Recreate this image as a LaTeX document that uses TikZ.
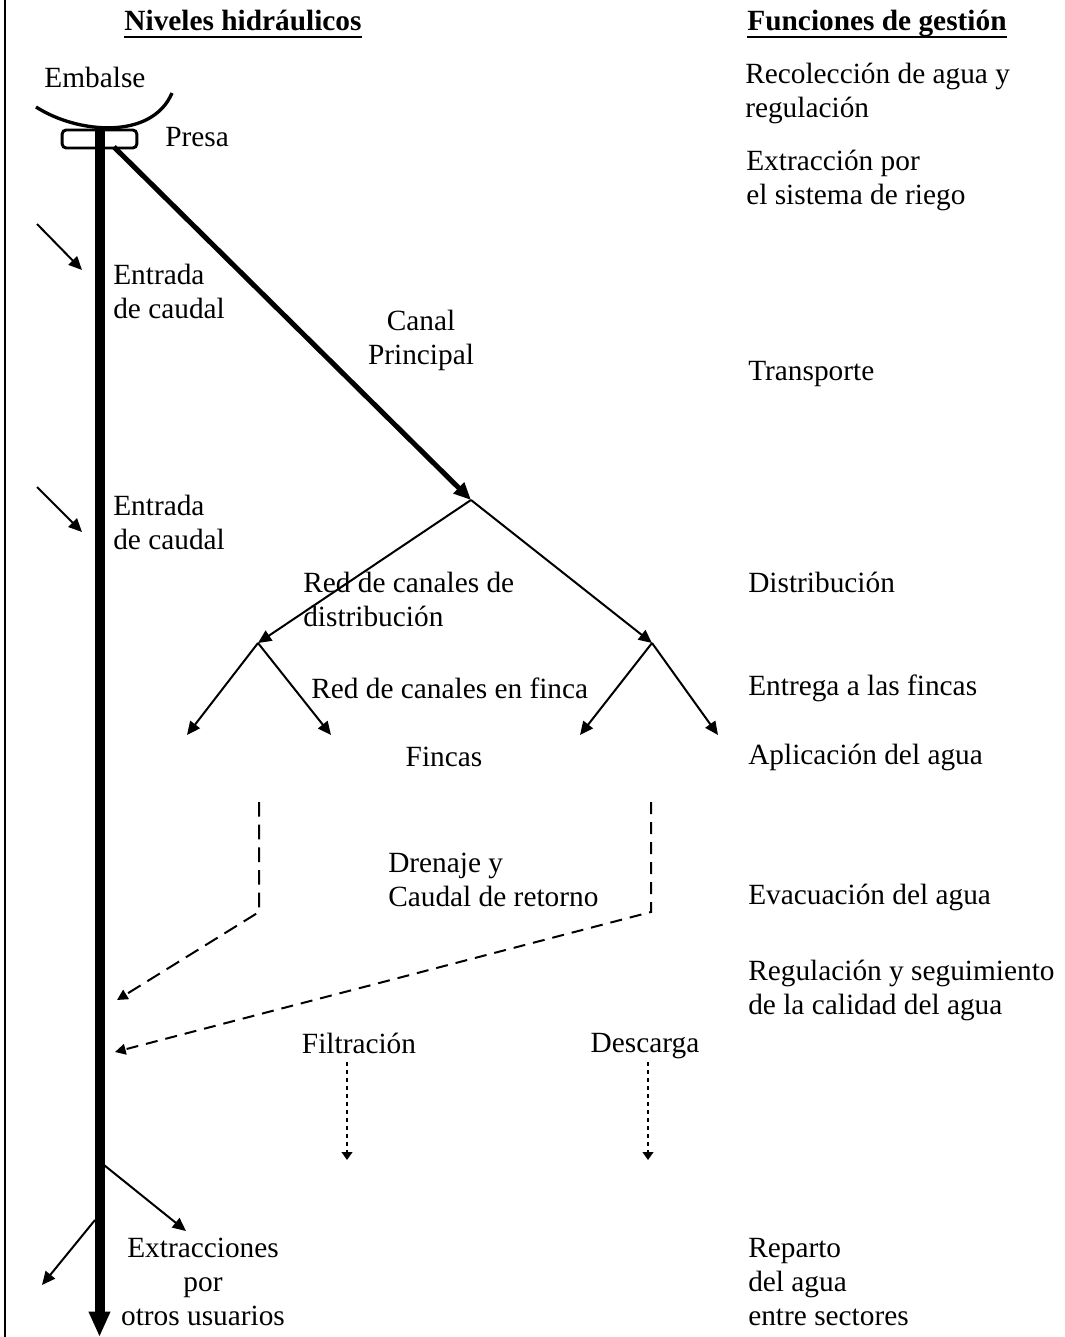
\documentclass[tikz,border=0pt]{standalone}
\usepackage{fontspec}
\setmainfont{Liberation Serif}
\usetikzlibrary{arrows.meta,calc}
\newcommand{\myfs}{\fontsize{22}{25.5}\selectfont}
\begin{document}
\begin{tikzpicture}[x=0.75pt,y=-0.75pt,
  txt/.style={inner sep=0pt, anchor=west, align=left, font=\myfs},
  ctxt/.style={inner sep=0pt, anchor=center, align=center, font=\myfs},
  ttl/.style={inner sep=0pt, anchor=base, font=\myfs\bfseries},
  thinarrow/.style={line width=1.5pt, -{Triangle[length=10pt,width=9pt]}},
  dasharrow/.style={line width=1.5pt, dash pattern=on 11pt off 6pt, -{Triangle[length=8pt,width=8pt]}},
  dotarrow/.style={line width=1.5pt, dash pattern=on 3pt off 3pt, -{Triangle[length=6pt,width=8pt]}}
]
\useasboundingbox (0,0) rectangle (1064,1337);
\draw[line width=1.5pt] (5,0) -- (5,1337);

% titles
\node[ttl] (t1) at (243,31) {Niveles hidráulicos};
\draw[line width=1.5pt] ($(t1.base west)+(0,6)$) -- ($(t1.base east)+(0,6)$);
\node[ttl] (t2) at (877,31) {Funciones de gestión};
\draw[line width=1.5pt] ($(t2.base west)+(0,6)$) -- ($(t2.base east)+(0,6)$);

% reservoir and dam
\node[ctxt] (embalse) at (95,77) {Embalse};
\draw[line width=2.5pt] (36,107) .. controls (78,134) and (152,140) .. (172,93);
\node[draw, line width=2.2pt, rounded corners=3pt, minimum width=56pt, minimum height=13.5pt, inner sep=0pt] (presabox) at (99.5,139) {};
\node[txt] (presa) at (165,137) {Presa};

% main river
\coordinate (rtop) at (99.5,130);
\coordinate (rbot) at (99.5,1337);
\draw[line width=7.5pt, -{Triangle[length=19pt,width=15pt]}] (rtop) -- (rbot);

% main canal
\coordinate (cstart) at (114,147);
\coordinate (br) at (471,500);
\draw[line width=3.8pt, -{Triangle[length=13pt,width=11pt]}] (cstart) -- (br);
\node[ctxt] (canal) at (421,340) {Canal\\Principal};

% distribution
\coordinate (bl) at (258,643);
\coordinate (brr) at (652,643);
\coordinate (f1) at (187,735);
\coordinate (f2) at (331,735);
\coordinate (f3) at (580,735);
\coordinate (f4) at (718,735);
\draw[thinarrow] (br) -- (bl);
\draw[thinarrow] (br) -- (brr);
\draw[thinarrow] (bl) -- (f1);
\draw[thinarrow] (bl) -- (f2);
\draw[thinarrow] (brr) -- (f3);
\draw[thinarrow] (brr) -- (f4);
\node[txt] (redd) at (303,599) {Red de canales de\\distribución};
\node[txt] (redf) at (311,688) {Red de canales en finca};
\node[ctxt] (fincas) at (444,757) {Fincas};

% inflows
\coordinate (e1a) at (37,224);
\coordinate (e1b) at (82,270);
\coordinate (e2a) at (37,487);
\coordinate (e2b) at (82,532);
\draw[thinarrow] (e1a) -- (e1b);
\draw[thinarrow] (e2a) -- (e2b);
\node[txt] (ent1) at (113,291) {Entrada\\de caudal};
\node[txt] (ent2) at (113,522) {Entrada\\de caudal};

% drainage
\coordinate (d1a) at (259,802);
\coordinate (d1b) at (259,912);
\coordinate (d1c) at (117,1000);
\coordinate (d2a) at (651,802);
\coordinate (d2b) at (651,912);
\coordinate (d2c) at (115,1052);
\draw[dasharrow] (d1a) -- (d1b) -- (d1c);
\draw[dasharrow, dash pattern=on 9pt off 6pt] (d2a) -- (d2b) -- (d2c);
\node[txt] (dren) at (388,880) {Drenaje y\\Caudal de retorno};

% losses
\node[ctxt] (filt) at (359,1043) {Filtración};
\node[ctxt] (desc) at (645,1046) {Descarga};
\coordinate (fa) at (347,1062);
\coordinate (fb) at (347,1160);
\coordinate (da) at (648,1062);
\coordinate (db) at (648,1160);
\draw[dotarrow] (fa) -- (fb);
\draw[dotarrow] (da) -- (db);

% other users
\coordinate (x1a) at (104,1165);
\coordinate (x1b) at (186,1231);
\coordinate (x2a) at (95,1220);
\coordinate (x2b) at (42,1285);
\draw[thinarrow] (x1a) -- (x1b);
\draw[thinarrow] (x2a) -- (x2b);
\node[ctxt] (extr) at (203,1282) {Extracciones\\por\\otros usuarios};

% management functions
\node[txt] (g1) at (745,93) {Recolección de agua y\\regulación};
\node[txt] (g2) at (746,180) {Extracción por\\el sistema de riego};
\node[txt] (g3) at (748,374) {Transporte};
\node[txt] (g4) at (748,582) {Distribución};
\node[txt] (g5) at (748,688) {Entrega a las fincas};
\node[txt] (g6) at (748,757) {Aplicación del agua};
\node[txt] (g7) at (748,897) {Evacuación del agua};
\node[txt] (g8) at (748,990) {Regulación y seguimiento\\de la calidad del agua};
\node[txt] (g9) at (748,1282) {Reparto\\del agua\\entre sectores};
\end{tikzpicture}
\end{document}
